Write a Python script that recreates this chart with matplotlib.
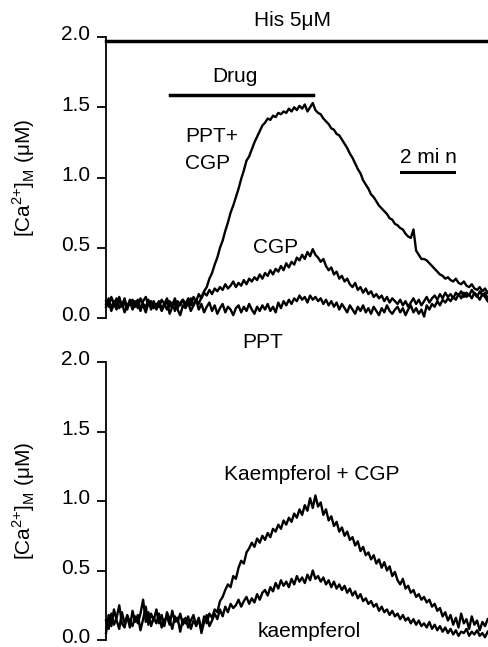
import numpy as np
import matplotlib
matplotlib.use('Agg')
import matplotlib.pyplot as plt
import matplotlib.transforms as mtransforms

plt.rcParams['font.family'] = ['Liberation Sans', 'DejaVu Sans']
plt.rcParams['font.size'] = 15

# sample step of the recordings (min)
step_min = 0.1

# top panel traces, [Ca2+]M in uM, one row = 1 min
ppt_cgp = [
    0.10, 0.14, 0.07, 0.12, 0.09, 0.15, 0.08, 0.11, 0.06, 0.13,
    0.09, 0.12, 0.07, 0.14, 0.10, 0.08, 0.13, 0.06, 0.11, 0.09,
    0.12, 0.07, 0.10, 0.14, 0.08, 0.11, 0.05, 0.12, 0.09, 0.13,
    0.08, 0.11, 0.14, 0.09, 0.13, 0.10, 0.15, 0.19, 0.22, 0.28,
    0.32, 0.38, 0.43, 0.50, 0.55, 0.62, 0.68, 0.75, 0.80, 0.86,
    0.92, 0.99, 1.05, 1.12, 1.15, 1.20, 1.25, 1.29, 1.33, 1.37,
    1.39, 1.42, 1.41, 1.44, 1.43, 1.46, 1.45, 1.47, 1.46, 1.49,
    1.47, 1.50, 1.48, 1.51, 1.49, 1.52, 1.47, 1.50, 1.53, 1.48,
    1.46, 1.45, 1.42, 1.40, 1.38, 1.35, 1.34, 1.31, 1.30, 1.27,
    1.24, 1.21, 1.17, 1.14, 1.10, 1.06, 1.03, 0.98, 0.95, 0.92,
    0.88, 0.86, 0.83, 0.80, 0.78, 0.76, 0.74, 0.71, 0.70, 0.67,
    0.66, 0.64, 0.63, 0.60, 0.58, 0.57, 0.63, 0.48, 0.45, 0.42,
    0.42, 0.41, 0.39, 0.37, 0.35, 0.33, 0.31, 0.30, 0.28, 0.29,
    0.27, 0.26, 0.28, 0.25, 0.24, 0.26, 0.23, 0.22, 0.24, 0.21,
    0.20, 0.22, 0.19, 0.21, 0.18,
]
cgp = [
    0.12, 0.08, 0.15, 0.10, 0.06, 0.13, 0.09, 0.14, 0.07, 0.11,
    0.13, 0.08, 0.11, 0.05, 0.12, 0.15, 0.09, 0.12, 0.07, 0.10,
    0.08, 0.13, 0.10, 0.06, 0.12, 0.09, 0.14, 0.07, 0.11, 0.13,
    0.10, 0.14, 0.09, 0.15, 0.12, 0.17, 0.14, 0.18, 0.16, 0.20,
    0.17, 0.21, 0.19, 0.22, 0.20, 0.24, 0.21, 0.23, 0.26, 0.22,
    0.25, 0.23, 0.27, 0.24, 0.28, 0.26, 0.29, 0.27, 0.31, 0.28,
    0.32, 0.30, 0.34, 0.31, 0.35, 0.33, 0.37, 0.34, 0.39, 0.36,
    0.40, 0.38, 0.43, 0.41, 0.45, 0.42, 0.47, 0.44, 0.49, 0.45,
    0.43, 0.40, 0.42, 0.37, 0.34, 0.36, 0.31, 0.33, 0.28, 0.30,
    0.26, 0.28, 0.24, 0.22, 0.25, 0.20, 0.22, 0.18, 0.21, 0.17,
    0.19, 0.15, 0.17, 0.14, 0.16, 0.12, 0.15, 0.11, 0.14, 0.12,
    0.10, 0.13, 0.09, 0.12, 0.08, 0.11, 0.14, 0.10, 0.13, 0.09,
    0.12, 0.15, 0.11, 0.14, 0.16, 0.13, 0.17, 0.14, 0.18, 0.15,
    0.17, 0.14, 0.18, 0.16, 0.19, 0.15, 0.18, 0.16, 0.20, 0.17,
    0.15, 0.19, 0.16, 0.18, 0.14,
]
ppt = [
    0.08, 0.12, 0.05, 0.10, 0.14, 0.07, 0.11, 0.04, 0.09, 0.12,
    0.06, 0.10, 0.13, 0.07, 0.09, 0.04, 0.11, 0.08, 0.12, 0.06,
    0.10, 0.05, 0.09, 0.12, 0.03, 0.08, 0.11, 0.06, 0.02, 0.09,
    0.07, 0.11, 0.05, 0.09, 0.13, 0.06, 0.10, 0.04, 0.08, 0.11,
    0.05, 0.09, 0.03, 0.07, 0.10, 0.04, 0.08, 0.06, 0.02, 0.07,
    0.09, 0.04, 0.08, 0.05, 0.10, 0.06, 0.03, 0.08, 0.05, 0.09,
    0.06, 0.10, 0.05, 0.08, 0.04, 0.11, 0.07, 0.12, 0.09, 0.13,
    0.10, 0.14, 0.12, 0.16, 0.13, 0.15, 0.11, 0.16, 0.13, 0.15,
    0.12, 0.14, 0.10, 0.13, 0.09, 0.12, 0.08, 0.11, 0.06, 0.10,
    0.07, 0.04, 0.09, 0.06, 0.03, 0.08, 0.05, 0.09, 0.04, 0.07,
    0.03, 0.08, 0.05, 0.02, 0.07, 0.04, 0.09, 0.05, 0.03, 0.06,
    0.08, 0.04, 0.07, 0.02, 0.06, 0.09, 0.04, 0.07, 0.03, 0.06,
    0.01, 0.09, 0.06, 0.10, 0.08, 0.12, 0.09, 0.13, 0.11, 0.14,
    0.12, 0.15, 0.13, 0.17, 0.14, 0.18, 0.15, 0.17, 0.14, 0.18,
    0.16, 0.13, 0.17, 0.15, 0.12,
]

# bottom panel traces
kaemp_cgp = [
    0.05, 0.18, 0.10, 0.22, 0.14, 0.08, 0.20, 0.12, 0.17, 0.09,
    0.21, 0.13, 0.18, 0.07, 0.15, 0.24, 0.11, 0.19, 0.14, 0.22,
    0.12, 0.18, 0.10, 0.20, 0.15, 0.08, 0.17, 0.13, 0.19, 0.11,
    0.16, 0.09, 0.14, 0.18, 0.10, 0.15, 0.07, 0.17, 0.12, 0.19,
    0.16, 0.22, 0.20, 0.28, 0.31, 0.36, 0.40, 0.38, 0.46, 0.44,
    0.52, 0.57, 0.55, 0.63, 0.66, 0.70, 0.67, 0.73, 0.70, 0.75,
    0.72, 0.77, 0.74, 0.80, 0.78, 0.83, 0.80, 0.86, 0.83, 0.88,
    0.85, 0.91, 0.88, 0.94, 0.90, 0.97, 0.93, 1.02, 0.95, 1.04,
    0.96, 0.99, 0.90, 0.94, 0.86, 0.89, 0.82, 0.85, 0.78, 0.81,
    0.75, 0.78, 0.72, 0.74, 0.68, 0.71, 0.64, 0.67, 0.61, 0.63,
    0.58, 0.61, 0.55, 0.58, 0.52, 0.56, 0.50, 0.53, 0.46, 0.49,
    0.43, 0.40, 0.44, 0.37, 0.39, 0.34, 0.36, 0.31, 0.33, 0.29,
    0.31, 0.27, 0.29, 0.24, 0.26, 0.21, 0.23, 0.17, 0.20, 0.14,
    0.18, 0.11, 0.16, 0.09, 0.19, 0.12, 0.15, 0.08, 0.17, 0.11,
    0.14, 0.07, 0.13, 0.10, 0.15,
]
kaemp = [
    0.14, 0.08, 0.19, 0.11, 0.16, 0.25, 0.12, 0.09, 0.18, 0.13,
    0.10, 0.17, 0.12, 0.19, 0.29, 0.13, 0.20, 0.10, 0.16, 0.12,
    0.19, 0.09, 0.14, 0.17, 0.11, 0.21, 0.13, 0.16, 0.06, 0.15,
    0.12, 0.17, 0.08, 0.14, 0.11, 0.16, 0.05, 0.13, 0.18, 0.10,
    0.14, 0.19, 0.15, 0.22, 0.17, 0.24, 0.20, 0.26, 0.23, 0.25,
    0.29, 0.24, 0.28, 0.31, 0.26, 0.30, 0.27, 0.33, 0.29, 0.34,
    0.36, 0.32, 0.38, 0.35, 0.41, 0.37, 0.43, 0.39, 0.42, 0.38,
    0.44, 0.40, 0.46, 0.42, 0.45, 0.41, 0.47, 0.43, 0.50, 0.44,
    0.46, 0.42, 0.45, 0.40, 0.43, 0.38, 0.42, 0.37, 0.40, 0.36,
    0.39, 0.34, 0.37, 0.32, 0.35, 0.30, 0.33, 0.28, 0.30, 0.26,
    0.28, 0.24, 0.26, 0.21, 0.24, 0.20, 0.22, 0.18, 0.21, 0.17,
    0.19, 0.15, 0.18, 0.14, 0.16, 0.12, 0.15, 0.11, 0.14, 0.10,
    0.12, 0.09, 0.13, 0.08, 0.11, 0.07, 0.10, 0.06, 0.09, 0.05,
    0.08, 0.04, 0.07, 0.03, 0.06, 0.05, 0.08, 0.03, 0.06, 0.04,
    0.07, 0.03, 0.05, 0.02, 0.06,
]

# application bars (min) and levels
his_bar = (0.0, 14.45, 1.97)
drug_bar = (2.42, 7.81, 1.59)
scale_bar = (11.13, 13.13, 1.04)

yticks = [0.0, 0.5, 1.0, 1.5, 2.0]
ylab = r'[Ca$^{\mathregular{2{+}}}$]$_{\mathregular{M}}$ (μM)'

t = np.arange(len(ppt_cgp)) * step_min

fig = plt.figure(figsize=(4.89, 6.47), dpi=100)
ax1 = fig.add_axes([0.2168, 0.5085, 0.7832, 0.4343])
ax2 = fig.add_axes([0.2168, 0.0108, 0.7832, 0.4297])

# tick labels sit a few px above their ticks in the original
lift = mtransforms.ScaledTranslation(0, 3 / 72, fig.dpi_scale_trans)

for ax in (ax1, ax2):
    ax.set_xlim(0, 14.45)
    ax.set_ylim(0, 2.0)
    for s in ('top', 'right', 'bottom'):
        ax.spines[s].set_visible(False)
    ax.spines['left'].set_linewidth(1.3)
    ax.set_xticks([])
    ax.set_yticks(yticks)
    ax.set_yticklabels(['%.1f' % v for v in yticks])
    ax.tick_params(axis='y', length=6.5, width=1.3, pad=5, labelsize=15)
    for lb in ax.get_yticklabels():
        lb.set_transform(lb.get_transform() + lift)
    ax.set_ylabel(ylab, fontsize=15)
    ax.yaxis.set_label_coords(-0.18, 0.5)

# top panel
for tr in (ppt_cgp, cgp, ppt):
    ax1.plot(t, tr, color='black', lw=1.7, clip_on=False)
ax1.plot(his_bar[:2], [his_bar[2]] * 2, color='black', lw=2.5, clip_on=False)
ax1.plot(drug_bar[:2], [drug_bar[2]] * 2, color='black', lw=2.5)
ax1.plot(scale_bar[:2], [scale_bar[2]] * 2, color='black', lw=2.2)
ax1.text(7.02, 2.12, 'His 5μM', ha='center', va='center', clip_on=False)
ax1.text(4.87, 1.72, 'Drug', ha='center', va='center')
ax1.text(2.98, 1.29, 'PPT+', ha='left', va='center')
ax1.text(2.98, 1.10, 'CGP', ha='left', va='center')
ax1.text(12.15, 1.14, '2 mi n', ha='center', va='center')
ax1.text(6.38, 0.50, 'CGP', ha='center', va='center')

# bottom panel
for tr in (kaemp_cgp, kaemp):
    ax2.plot(t, tr, color='black', lw=1.7, clip_on=False)
ax2.text(5.92, 2.14, 'PPT', ha='center', va='center', clip_on=False)
ax2.text(7.77, 1.19, 'Kaempferol + CGP', ha='center', va='center')
ax2.text(7.66, 0.06, 'kaempferol', ha='center', va='center')

fig.savefig('out.png', dpi=100)
